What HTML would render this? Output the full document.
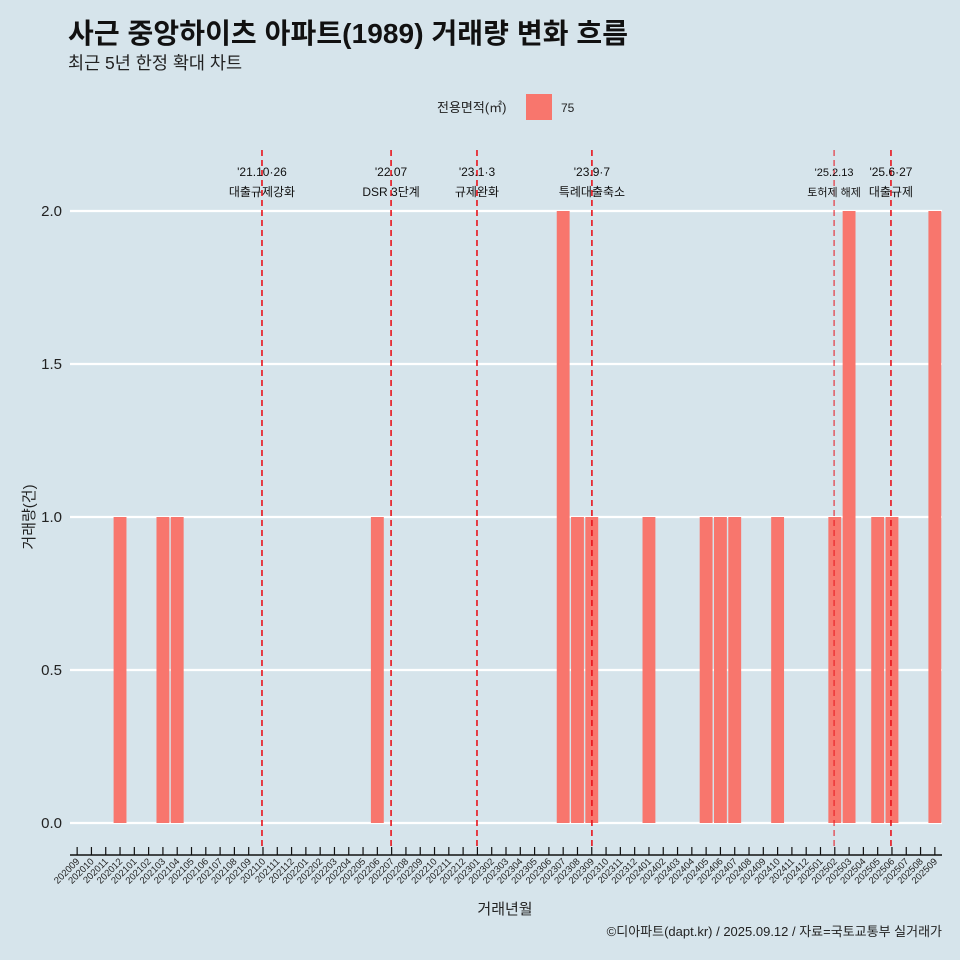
<!DOCTYPE html>
<html><head><meta charset="utf-8"><style>
html,body{margin:0;background:#d6e4eb;overflow:hidden;width:960px;height:960px;}
svg{display:block;}
svg text{font-family:"Liberation Sans","Noto Sans CJK KR",sans-serif;}
</style></head><body>
<svg id="chart" width="960" height="960" xmlns="http://www.w3.org/2000/svg">
<rect width="960" height="960" fill="#d6e4eb"/>
<text x="68" y="43" font-size="28" font-weight="bold" fill="#111" textLength="560">사근 중앙하이츠 아파트(1989) 거래량 변화 흐름</text>
<text x="68" y="69" font-size="17.5" fill="#222">최근 5년 한정 확대 차트</text>
<g>
<text x="437" y="112" font-size="13" fill="#222">전용면적(㎡)</text>
<rect x="526" y="94" width="26" height="26" fill="#f8766d"/>
<text x="561" y="112" font-size="12" fill="#222">75</text>
</g>
<g id="grid"></g><g id="bars"></g><g id="events"></g><g id="axes"></g>
<text x="505" y="914" font-size="15" text-anchor="middle" fill="#222">거래년월</text>
<text transform="translate(34,517) rotate(-90)" font-size="15" text-anchor="middle" fill="#222">거래량(건)</text>
<text x="942" y="936" font-size="13" text-anchor="end" fill="#222">©디아파트(dapt.kr) / 2025.09.12 / 자료=국토교통부 실거래가</text>
</svg>
<script>
const months=[];for(let y=2020,m=9;y*100+m<=202509;){months.push(String(y*100+m));m++;if(m>12){m=1;y++;}}
const barMonths=["202012","202103","202104","202206","202307","202308","202309","202401","202405","202406","202407","202410","202502","202503","202505","202506","202509"];
const barValues=[1,1,1,1,2,1,1,1,1,1,1,1,1,2,1,1,2];
const yTicks=[0,0.5,1,1.5,2];
const yTickLabels=["0.0","0.5","1.0","1.5","2.0"];
const eventMonths=["202110","202207","202301","202309","202502","202506"];
const eventOffsets=[0.43,0.46,0.47,0.51,0.45,0.43];
const eventDates=["'21.10·26","'22.07","'23.1·3","'23.9·7","'25.2.13","'25.6·27"];
const eventNames=["대출규제강화","DSR 3단계","규제완화","특례대출축소","토허제 해제","대출규제"];
const NS="http://www.w3.org/2000/svg";
const L=70,R=942,T=150,B=848;
const step=(R-L)/months.length;
const xs=m=>L+step*(months.indexOf(m)+0.5);
const ys=v=>823-v*306;
function mk(tag,at,parent){const e=document.createElementNS(NS,tag);for(const k in at)e.setAttribute(k,at[k]);parent.appendChild(e);return e;}
const grid=document.getElementById('grid'),bars=document.getElementById('bars'),ev=document.getElementById('events'),ax=document.getElementById('axes');
yTicks.forEach((v,i)=>{
 const l=mk('line',{x1:L,x2:R,y1:ys(v),y2:ys(v),stroke:'#fff','stroke-width':2.2},grid);
 
 
 const t=mk('text',{x:L-8,y:ys(v)+5,'font-size':15,'text-anchor':'end',fill:'#222'},ax);t.textContent=yTickLabels[i];
 
 
});
barMonths.forEach((m,i)=>{
 const w=step*0.9;
 const r=mk('rect',{x:xs(m)-w/2,y:ys(barValues[i]),width:w,height:ys(0)-ys(barValues[i]),fill:'#f8766d'},bars);
 
 
});
eventMonths.forEach((m,i)=>{
 const x=xs(m)+(eventOffsets[i]-0.5)*step;
 const ln=mk('line',{x1:x,x2:x,y1:T,y2:B,stroke:'#e8141c','stroke-width':i==4?1:1.6,'stroke-dasharray':'6,4'},ev);
 
 
 const fs=i==4?11:12;
 const t1=mk('text',{x:x,y:176,'font-size':fs,'text-anchor':'middle',fill:'#111'},ev);t1.textContent=eventDates[i];
 
 
 const t2=mk('text',{x:x,y:196,'font-size':fs,'text-anchor':'middle',fill:'#111'},ev);t2.textContent=eventNames[i];
 
 
});
const axl=mk('line',{x1:L,x2:R,y1:855,y2:855,stroke:'#111','stroke-width':1.5},ax);


months.forEach(m=>{
 const x=xs(m);
 mk('line',{x1:x,x2:x,y1:847,y2:855,stroke:'#111','stroke-width':1.2},ax);
 const t=mk('text',{transform:`translate(${x+3},862) rotate(-45)`,'font-size':9.5,'text-anchor':'end',fill:'#222'},ax);t.textContent=m;
 
 
});
</script>
</body></html>
